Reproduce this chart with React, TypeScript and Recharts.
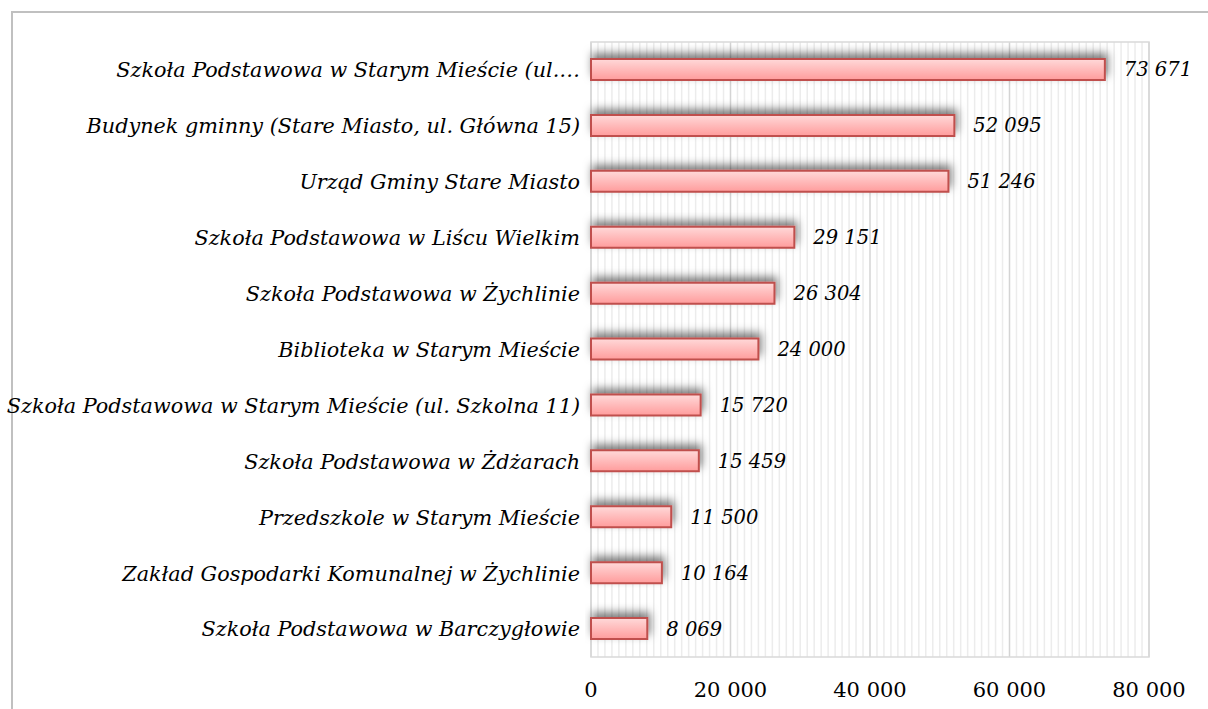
import { Bar, BarChart, CartesianGrid, LabelList, ReferenceArea, XAxis, YAxis } from 'recharts';

const categories = [
  'Szkoła Podstawowa w Starym Mieście (ul.…',
  'Budynek gminny (Stare Miasto, ul. Główna 15)',
  'Urząd Gminy Stare Miasto',
  'Szkoła Podstawowa w Liścu Wielkim ',
  'Szkoła Podstawowa w Żychlinie',
  'Biblioteka w Starym Mieście',
  'Szkoła Podstawowa w Starym Mieście (ul. Szkolna 11)',
  'Szkoła Podstawowa w Żdżarach',
  'Przedszkole w Starym Mieście',
  'Zakład Gospodarki Komunalnej w Żychlinie',
  'Szkoła Podstawowa w Barczygłowie ',
];
const values = [73671, 52095, 51246, 29151, 26304, 24000, 15720, 15459, 11500, 10164, 8069];
const majorTicks = [0, 20000, 40000, 60000, 80000];
const xMax = 80000;
const minorStep = 1000;

const data = categories.map((name, i) => ({ name, value: values[i] }));
// minor gridlines every 1 000
const minorTicks: number[] = [];
for (let t = minorStep; t < xMax; t += minorStep) {
  if (t % 20000 !== 0) minorTicks.push(t);
}

const fmt = (v: number) => String(v).replace(/\B(?=(\d{3})+(?!\d))/g, ' ');
const FONT = '"DejaVu Serif", serif';

const minorCoords = ({ xAxis, offset }: any) => {
  const sc = xAxis && xAxis.scale;
  if (typeof sc === 'function') return minorTicks.map((t) => sc(t));
  if (sc && typeof sc.map === 'function') return minorTicks.map((t) => sc.map(t));
  return minorTicks.map((t) => offset.left + (t / xMax) * offset.width);
};

export default function App() {
  return (
    <div style={{ position: 'absolute', left: 0, top: 0, width: 1208, height: 709, background: '#fff', overflow: 'hidden' }}>
      <div
        style={{
          position: 'absolute', left: 11, top: 11, width: 1208, height: 709,
          borderLeft: '2px solid #c0c0c0', borderTop: '2px solid #c0c0c0',
        }}
      />
      <div style={{ position: 'absolute', left: 0, top: 0 }}>
        <BarChart
          width={1208}
          height={709}
          data={data}
          layout="vertical"
          margin={{ top: 42, right: 59, bottom: 0, left: 0 }}
          barCategoryGap={18}
        >
          <defs>
            <linearGradient id="barFill" x1="0" y1="0" x2="0" y2="1">
              <stop offset="0%" stopColor="#ffd9d9" />
              <stop offset="100%" stopColor="#ff9c9c" />
            </linearGradient>
            <filter id="barShadow" x="-10%" y="-100%" width="130%" height="250%">
              <feDropShadow dx="2" dy="-5" stdDeviation="4" floodColor="#000" floodOpacity="0.5" />
            </filter>
          </defs>
          <CartesianGrid
            horizontal={false}
            stroke="#ececec"
            strokeWidth={1.5}
            verticalCoordinatesGenerator={minorCoords}
          />
          <CartesianGrid horizontal={false} stroke="#d4d4d4" strokeWidth={1.5} />
          <XAxis
            type="number"
            domain={[0, xMax]}
            ticks={majorTicks}
            tickFormatter={fmt}
            height={52}
            axisLine={false}
            tickLine={false}
            tickMargin={19}
            tick={{ fill: '#000', fontSize: 21, fontFamily: FONT }}
          />
          <YAxis
            type="category"
            dataKey="name"
            width={591}
            axisLine={false}
            tickLine={false}
            tickMargin={5}
            interval={0}
            tick={{ fill: '#000', fontSize: 20.75, fontFamily: FONT, fontStyle: 'italic' }}
          />
          <ReferenceArea x1={0} x2={xMax} fill="none" stroke="#d9d9d9" strokeWidth={1.5} />
          <Bar
            dataKey="value"
            barSize={21}
            fill="url(#barFill)"
            stroke="#c0504d"
            strokeWidth={2}
            filter="url(#barShadow)"
            isAnimationActive={false}
          >
            <LabelList
              dataKey="value"
              position="right"
              offset={19}
              formatter={(v: number) => fmt(v)}
              style={{ fill: '#000', fontSize: 19.5, fontFamily: FONT, fontStyle: 'italic' }}
            />
          </Bar>
        </BarChart>
      </div>
    </div>
  );
}
